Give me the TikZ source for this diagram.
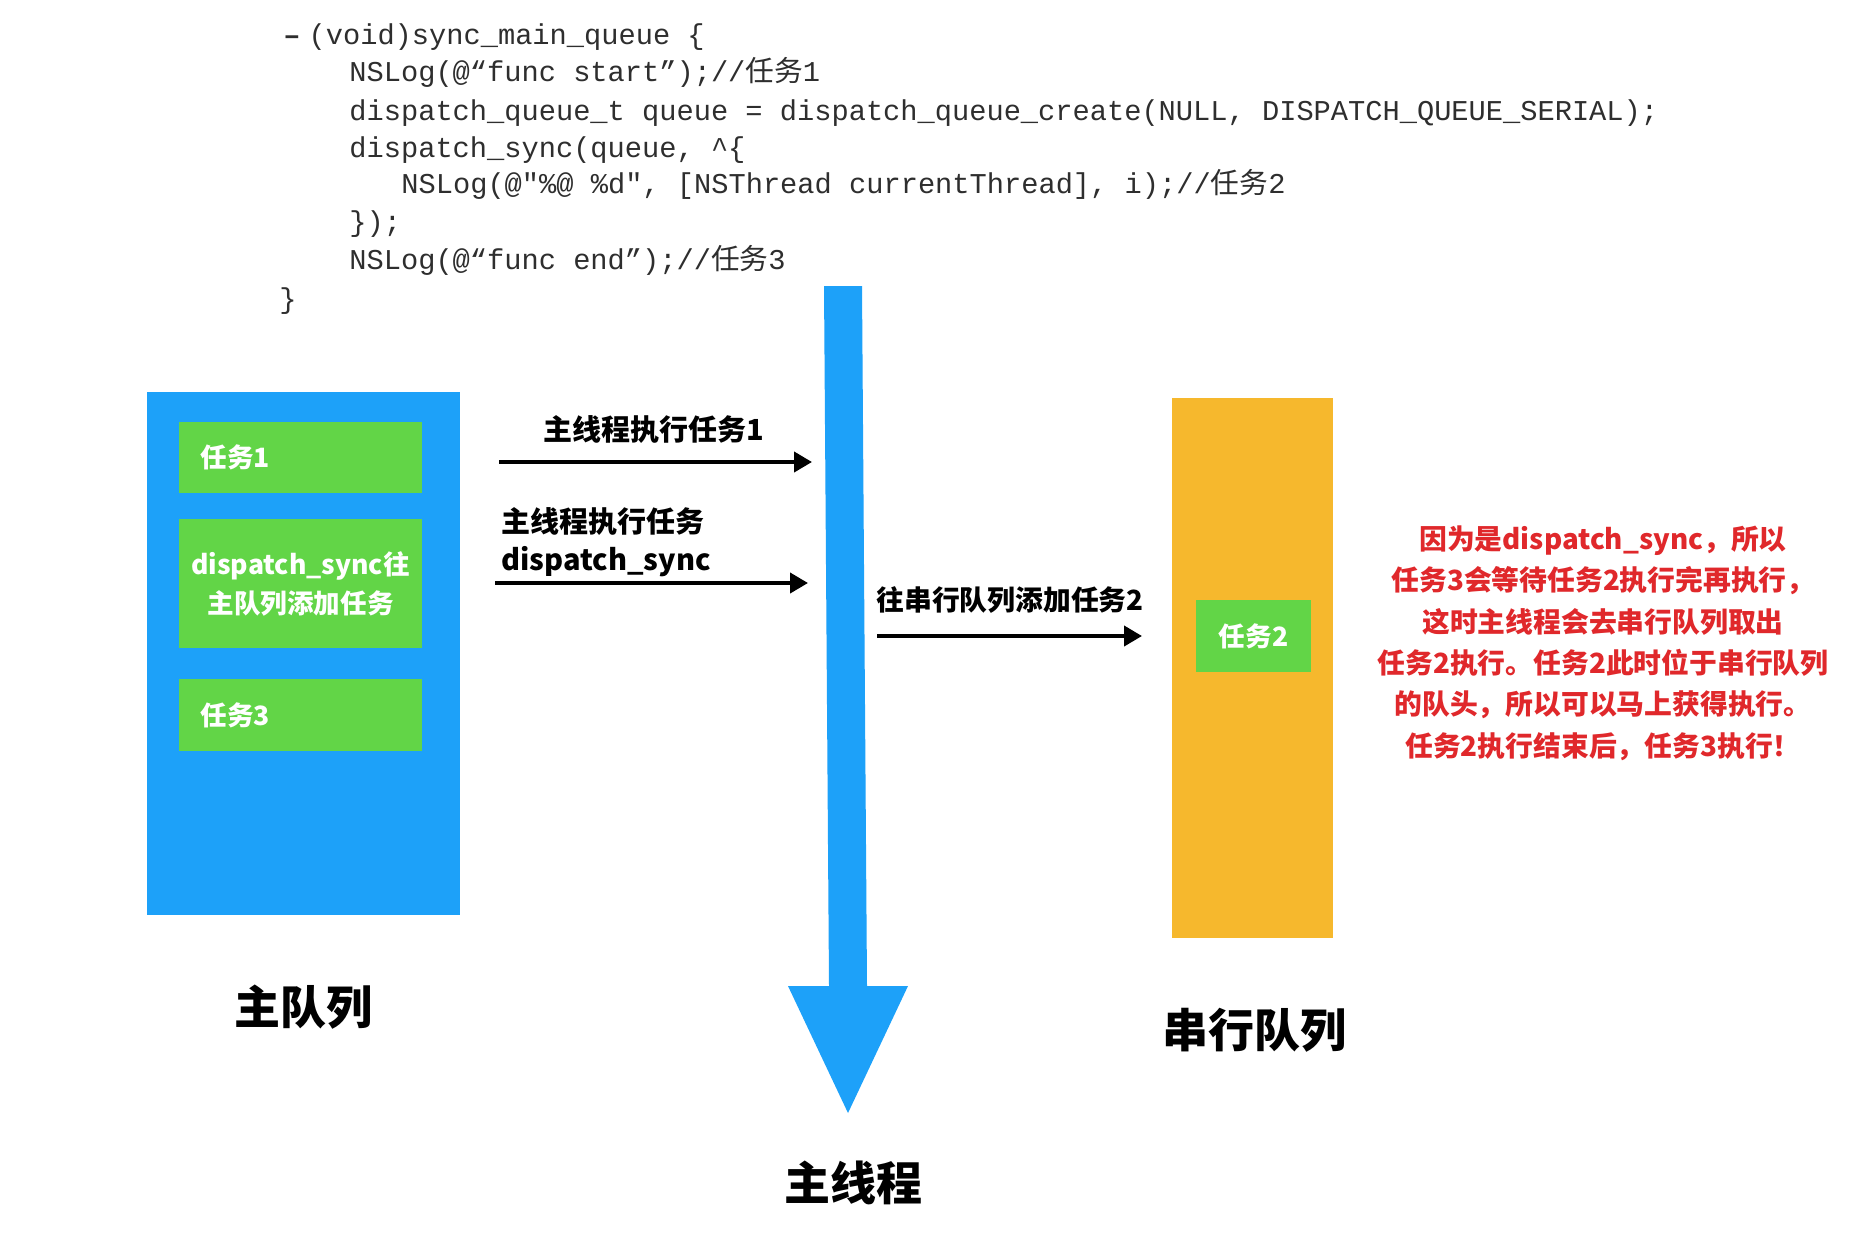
\documentclass[tikz,border=0pt]{standalone}
\usepackage{fontspec}
\setmainfont{Noto Sans CJK SC}
\newfontfamily\cjk{Noto Sans CJK SC}
\newfontfamily\codefont{Liberation Mono}
\usetikzlibrary{arrows.meta}
\definecolor{qblue}{HTML}{1DA1F9}
\definecolor{qgreen}{HTML}{62D547}
\definecolor{qorange}{HTML}{F6B82D}
\definecolor{qred}{HTML}{E0282B}
\definecolor{codegray}{HTML}{2E2E2E}
\tikzset{
  codeline/.style={anchor=west, inner sep=0pt, text height=10pt, text depth=3.5pt, text=codegray,
    font=\codefont\fontsize{14.35}{17}\selectfont},
  taskbox/.style={fill=qgreen, inner sep=0pt, text=white},
  tasktext/.style={anchor=west, inner sep=0pt, text=white, font=\bfseries\fontsize{13.3}{17}\selectfont},
  lbl/.style={inner sep=0pt, font=\bfseries\fontsize{14.5}{20}\selectfont},
  biglbl/.style={inner sep=0pt, font=\bfseries\fontsize{23}{28}\selectfont},
  arr/.style={line width=2pt, -{Triangle[length=9pt,width=10pt]}},
}
\begin{document}
\begin{tikzpicture}[x=0.5pt,y=-0.5pt]
\useasboundingbox (0,0) rectangle (1852,1254);
\fill[white] (0,0) rectangle (1852,1254);

% code
\node[codeline] (c1) at (283,38) {\textbf{–}\hspace{4pt}(void)sync\_main\_queue \{};
\node[codeline] (c2) at (349,75) {NSLog(@“func start”);//{\cjk 任务}1};
\node[codeline] (c3) at (349,114) {dispatch\_queue\_t queue = dispatch\_queue\_create(NULL, DISPATCH\_QUEUE\_SERIAL);};
\node[codeline] (c4) at (349,151) {dispatch\_sync(queue, \textasciicircum\{};
\node[codeline] (c5) at (401,187) {NSLog(@"\%@ \%d", [NSThread currentThread], i);//{\cjk 任务}2};
\node[codeline] (c6) at (349,225) {\});};
\node[codeline] (c7) at (349,263) {NSLog(@“func end”);//{\cjk 任务}3};
\node[codeline] (c8) at (279,302) {\}};

% main queue
\node[fill=qblue, inner sep=0pt, minimum width=156.5pt, minimum height=261.5pt] (mainq) at (303.5,653.5) {};
\node[taskbox, minimum width=121.5pt, minimum height=35.5pt] (t1) at (300.5,457.5) {};
\node[tasktext] (t1t) at (200,457.5) {任务1};
\node[taskbox, minimum width=121.5pt, minimum height=64.5pt, align=center,
      font=\bfseries\fontsize{13.3}{19.5}\selectfont] (tds) at (300.5,583.5) {dispatch\_sync往\\主队列添加任务};
\node[taskbox, minimum width=121.5pt, minimum height=36pt] (t3) at (300.5,715) {};
\node[tasktext] (t3t) at (200,715) {任务3};
\node[biglbl] (mainqlbl) at (303.5,1007) {主队列};

% main thread arrow
\fill[qblue] (824,286) -- (862,286) -- (867,986) -- (908,986) -- (848,1113) -- (788,986) -- (829,986) -- cycle;
\node[biglbl] (mtlbl) at (853,1183) {主线程};

% serial queue
\node[fill=qorange, inner sep=0pt, minimum width=80.5pt, minimum height=270pt] (serq) at (1252.5,668) {};
\node[taskbox, minimum width=57.5pt, minimum height=36pt, font=\bfseries\fontsize{13.3}{17}\selectfont] (t2) at (1253.5,636) {任务2};
\node[biglbl] (serqlbl) at (1254,1030) {串行队列};

% arrows
\coordinate (a1s) at (499,462);
\coordinate (a1e) at (812,462);
\draw[arr] (a1s) -- (a1e);
\node[lbl] (l1) at (654,430) {主线程执行任务1};

\coordinate (a2s) at (495,583);
\coordinate (a2e) at (808,583);
\draw[arr] (a2s) -- (a2e);
\node[lbl, anchor=west] (l2a) at (501,522) {主线程执行任务};
\node[lbl, anchor=west] (l2b) at (501,562) {dispatch\_sync};

\coordinate (a3s) at (877,636);
\coordinate (a3e) at (1142,636);
\draw[arr] (a3s) -- (a3e);
\node[lbl, anchor=west, font=\bfseries\fontsize{13.9}{20}\selectfont] (l3) at (876,600) {往串行队列添加任务2};

% red note
\node[inner sep=0pt, align=center, text=qred, font=\bfseries\fontsize{13.9}{20.7}\selectfont] (note) at (1603,643) {因为是dispatch\_sync，所以\\任务3会等待任务2执行完再执行，\\这时主线程会去串行队列取出\\任务2执行。任务2此时位于串行队列\\的队头，所以可以马上获得执行。\\任务2执行结束后，任务3执行！};
\end{tikzpicture}
\end{document}
